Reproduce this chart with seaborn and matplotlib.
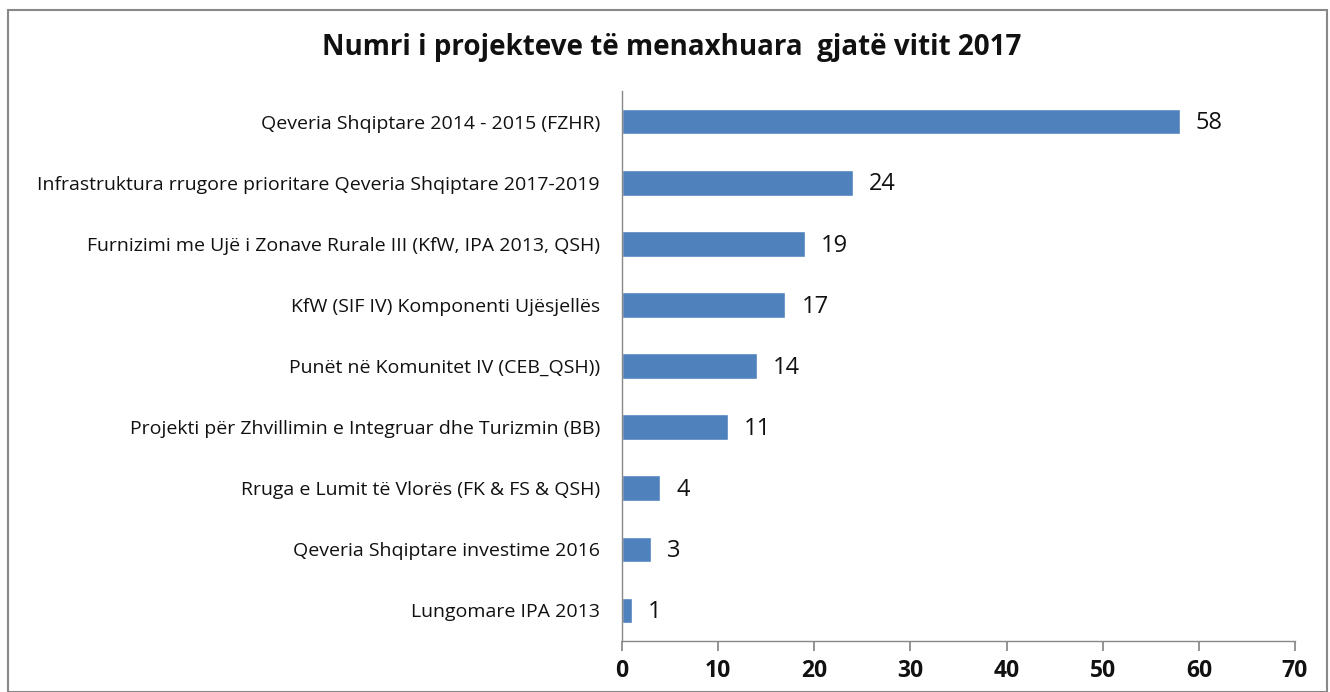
import matplotlib
matplotlib.use("Agg")
import matplotlib.pyplot as plt
import seaborn as sns
import pandas as pd
import numpy as np
from matplotlib.patches import Rectangle

categories = [
    "Qeveria Shqiptare 2014 - 2015 (FZHR)",
    "Infrastruktura rrugore prioritare Qeveria Shqiptare 2017-2019",
    "Furnizimi me Ujë i Zonave Rurale III (KfW, IPA 2013, QSH)",
    "KfW (SIF IV) Komponenti Ujësjellës",
    "Punët në Komunitet IV (CEB_QSH))",
    "Projekti për Zhvillimin e Integruar dhe Turizmin (BB)",
    "Rruga e Lumit të Vlorës (FK & FS & QSH)",
    "Qeveria Shqiptare investime 2016",
    "Lungomare IPA 2013",
]
values = [58, 24, 19, 17, 14, 11, 4, 3, 1]
x_ticks = [0, 10, 20, 30, 40, 50, 60, 70]
title = "Numri i projekteve të menaxhuara  gjatë vitit 2017"

sns.set_theme(style="white")
plt.rcParams['font.family'] = ['Open Sans', 'DejaVu Sans']

df = pd.DataFrame({"cat": categories, "val": values})

fig = plt.figure(figsize=(13.3, 6.92), dpi=100)
ax = fig.add_axes([622/1330, 1-641/692, (1295-622)/1330, (641-91)/692])
sns.barplot(data=df, x="val", y="cat", orient="h", color="#4f81bd", saturation=1,
            width=0.42, ax=ax)

ax.set_xlim(0, 70)
ax.set_ylim(len(categories)-0.5, -0.5)
ax.set_xticks(x_ticks)
ax.set_xticklabels([str(t) for t in x_ticks], fontsize=16.5, fontweight="bold", color="#111111")
ax.set_xlabel("")
ax.set_ylabel("")
ax.tick_params(axis="y", which="major", length=0, labelsize=14, pad=16, labelcolor="#111111")
ax.set_yticks(np.arange(-0.5, len(categories)+0.5, 1), minor=True)
ax.tick_params(axis="y", which="minor", length=7, color="#888888", direction="out")
ax.tick_params(axis="x", which="major", length=7, color="#888888", direction="out", bottom=True, pad=6)
for s in ["top", "right"]:
    ax.spines[s].set_visible(False)
for s in ["left", "bottom"]:
    ax.spines[s].set_color("#888888")
    ax.spines[s].set_linewidth(1)

for i, v in enumerate(values):
    ax.text(v + 1.7, i + 0.03, str(v), va="center", ha="left", fontsize=17, color="#111111")

fig.text(672/1330, 1-47/692, title, ha="center", va="center", fontsize=20, fontweight="bold",
         color="#111111")
fig.patches.append(Rectangle((8/1330, 0), 1319/1330, 1-10/692, transform=fig.transFigure,
                             fill=False, edgecolor="#888888", linewidth=1.5))

fig.savefig("out.png", dpi=100)
